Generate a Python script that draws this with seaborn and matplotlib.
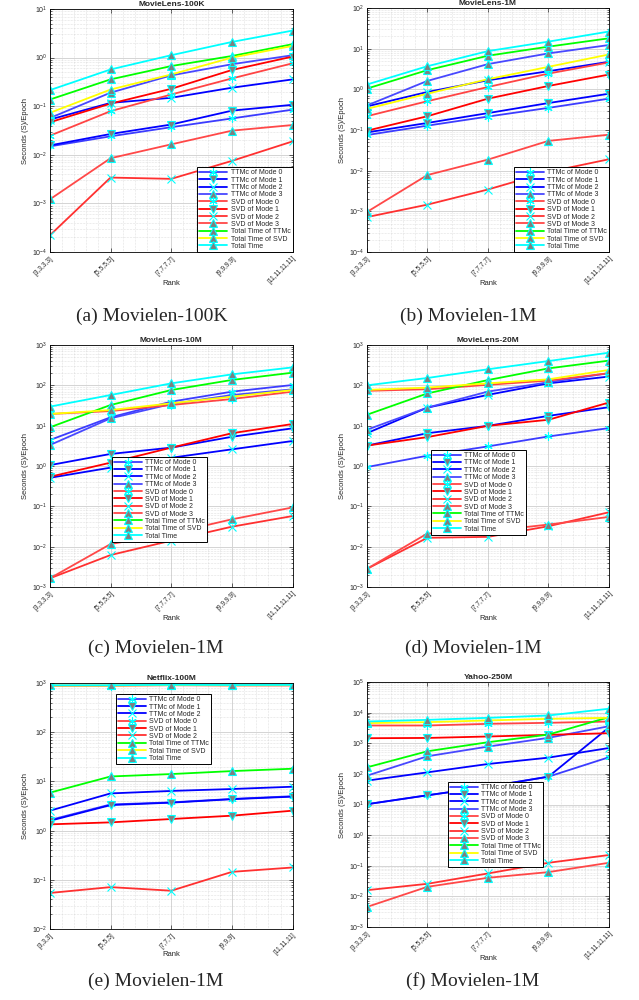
import numpy as np
import pandas as pd
import matplotlib.pyplot as plt
import matplotlib.ticker as mticker
import seaborn as sns

sns.set_style("ticks")
plt.rcParams['font.family'] = ['Liberation Sans', 'DejaVu Sans']
plt.rcParams['mathtext.fontset'] = 'dejavusans'

# ---- data (seconds per epoch) ----
ranks4 = ["[3,3,3,3]", "[5,5,5,5]", "[7,7,7,7]", "[9,9,9,9]", "[11,11,11,11]"]
ranks3 = ["[3,3,3]", "[5,5,5]", "[7,7,7]", "[9,9,9]", "[11,11,11]"]

ml100k = {
    "TTMc of Mode 0": [0.0149, 0.024, 0.037, 0.056, 0.085],
    "TTMc of Mode 1": [0.0156, 0.0268, 0.042, 0.081, 0.107],
    "TTMc of Mode 2": [0.053, 0.117, 0.149, 0.24, 0.356],
    "TTMc of Mode 3": [0.057, 0.19, 0.43, 0.73, 1.12],
    "SVD of Mode 0": [0.0247, 0.079, 0.174, 0.373, 0.764],
    "SVD of Mode 1": [0.0467, 0.113, 0.228, 0.556, 1.05],
    "SVD of Mode 2": [0.00022, 0.0034, 0.0032, 0.0075, 0.0189],
    "SVD of Mode 3": [0.00121, 0.0085, 0.0164, 0.0314, 0.041],
    "Total Time of TTMc": [0.137, 0.356, 0.67, 1.08, 1.89],
    "Total Time of SVD": [0.073, 0.22, 0.45, 1.0, 1.74],
    "Total Time": [0.214, 0.57, 1.12, 2.1, 3.6],
}

ml1m = {
    "TTMc of Mode 0": [0.075, 0.128, 0.214, 0.35, 0.59],
    "TTMc of Mode 1": [0.087, 0.149, 0.26, 0.46, 0.78],
    "TTMc of Mode 2": [0.38, 0.86, 1.67, 2.79, 4.76],
    "TTMc of Mode 3": [0.40, 1.61, 4.17, 7.65, 12.3],
    "SVD of Mode 0": [0.218, 0.51, 1.14, 2.44, 4.58],
    "SVD of Mode 1": [0.096, 0.218, 0.59, 1.21, 2.31],
    "SVD of Mode 2": [0.00072, 0.00146, 0.00344, 0.0093, 0.0191],
    "SVD of Mode 3": [0.00096, 0.0078, 0.0187, 0.054, 0.0766],
    "Total Time of TTMc": [1.04, 2.96, 6.7, 11.2, 18.0],
    "Total Time of SVD": [0.33, 0.78, 1.77, 3.58, 7.2],
    "Total Time": [1.31, 3.7, 8.7, 14.9, 26.4],
}

ml10m = {
    "TTMc of Mode 0": [4.4, 16.1, 39.4, 69.7, 102],
    "TTMc of Mode 1": [1.05, 1.99, 2.85, 5.3, 8.6],
    "TTMc of Mode 2": [0.51, 0.91, 1.6, 2.59, 4.17],
    "TTMc of Mode 3": [3.3, 15.2, 34.4, 57.5, 79.6],
    "SVD of Mode 0": [19.5, 23.0, 32.5, 45.8, 69.7],
    "SVD of Mode 1": [0.54, 1.21, 2.85, 6.5, 11.0],
    "SVD of Mode 2": [0.00164, 0.0062, 0.0141, 0.0313, 0.0575],
    "SVD of Mode 3": [0.00164, 0.0116, 0.0214, 0.0477, 0.094],
    "Total Time of TTMc": [9.1, 32.5, 76.5, 136, 206],
    "Total Time of SVD": [19.5, 24.4, 35.8, 52.4, 76.5],
    "Total Time": [29.6, 57.5, 112, 187, 279],
}

ml20m = {
    "TTMc of Mode 0": [0.94, 1.8, 3.06, 5.4, 8.7],
    "TTMc of Mode 1": [3.2, 6.5, 9.9, 17.5, 28.7],
    "TTMc of Mode 2": [6.5, 28.0, 58.0, 112, 165],
    "TTMc of Mode 3": [7.9, 28.0, 70.0, 119, 200],
    "SVD of Mode 0": [73.0, 80.0, 103, 131, 200],
    "SVD of Mode 1": [3.2, 5.2, 9.9, 14.0, 37.5],
    "SVD of Mode 2": [0.0028, 0.0166, 0.0175, 0.0321, 0.0713],
    "SVD of Mode 3": [0.0028, 0.0212, 0.0242, 0.0353, 0.0547],
    "Total Time of TTMc": [18.6, 63.0, 135, 263, 410],
    "Total Time of SVD": [77.0, 88.0, 112, 141, 241],
    "Total Time": [100, 152, 250, 400, 645],
}

netflix = {
    "TTMc of Mode 0": [1.64, 3.4, 3.75, 4.4, 5.0],
    "TTMc of Mode 1": [1.58, 3.3, 3.7, 4.35, 4.9],
    "TTMc of Mode 2": [2.54, 5.7, 6.4, 7.0, 7.8],
    "SVD of Mode 0": [880, 880, 900, 890, 890],
    "SVD of Mode 1": [1.34, 1.47, 1.72, 2.01, 2.54],
    "SVD of Mode 2": [0.054, 0.071, 0.06, 0.145, 0.178],
    "Total Time of TTMc": [5.9, 12.6, 14.1, 16.2, 18.1],
    "Total Time of SVD": [890, 890, 910, 900, 905],
    "Total Time": [900, 900, 920, 910, 915],
}

yahoo = {
    "TTMc of Mode 0": [10.2, 20.0, 38.0, 81.0, 350],
    "TTMc of Mode 1": [10.2, 20.0, 38.0, 81.0, 3300],
    "TTMc of Mode 2": [60.0, 112, 210, 339, 700],
    "TTMc of Mode 3": [87.0, 375, 778, 1500, 3600],
    "SVD of Mode 0": [3800, 3800, 4300, 4650, 5130],
    "SVD of Mode 1": [1460, 1490, 1660, 1880, 2130],
    "SVD of Mode 2": [0.0159, 0.0257, 0.056, 0.125, 0.224],
    "SVD of Mode 3": [0.0045, 0.0205, 0.0404, 0.062, 0.125],
    "Total Time of TTMc": [163, 547, 1080, 1920, 7100],
    "Total Time of SVD": [4530, 4890, 5540, 6280, 6760],
    "Total Time": [5130, 5800, 6760, 8070, 13400],
}

# ---- styles ----
ast = (6, 2, 0)
styles = {
    "TTMc of Mode 0": ("#3c3cff", ast),
    "TTMc of Mode 1": ("#0000ff", "v"),
    "TTMc of Mode 2": ("#0000ff", "x"),
    "TTMc of Mode 3": ("#4848ff", "^"),
    "SVD of Mode 0": ("#ff4444", ast),
    "SVD of Mode 1": ("#ff0000", "v"),
    "SVD of Mode 2": ("#ff3030", "x"),
    "SVD of Mode 3": ("#ff4848", "^"),
    "Total Time of TTMc": ("#00ff00", "^"),
    "Total Time of SVD": ("#ffff00", "^"),
    "Total Time": ("#00ffff", "^"),
}

panels = [
    ("MovieLens-100K", ml100k, ranks4, (1e-4, 1e1), [0.078, 0.748, 0.380, 0.243], "lower right", None),
    ("MovieLens-1M", ml1m, ranks4, (1e-4, 1e2), [0.574, 0.748, 0.379, 0.244], "lower right", None),
    ("MovieLens-10M", ml10m, ranks4, (1e-3, 1e3), [0.078, 0.413, 0.380, 0.242], "upper left", (0.255, 0.537)),
    ("MovieLens-20M", ml20m, ranks4, (1e-3, 1e3), [0.574, 0.413, 0.379, 0.242], "upper left", (0.264, 0.566)),
    ("Netflix-100M", netflix, ranks3, (1e-2, 1e3), [0.078, 0.071, 0.380, 0.246], "upper left", (0.272, 0.955)),
    ("Yahoo-250M", yahoo, ranks4, (1e-3, 1e5), [0.574, 0.073, 0.379, 0.245], "upper left", (0.335, 0.592)),
]

captions = [
    ("(a) Movielen-100K", 0.238, 0.684), ("(b) Movielen-1M", 0.733, 0.684),
    ("(c) Movielen-1M", 0.244, 0.352), ("(d) Movielen-1M", 0.740, 0.352),
    ("(e) Movielen-1M", 0.244, 0.019), ("(f) Movielen-1M", 0.740, 0.019),
]

fig = plt.figure(figsize=(6.39, 10), dpi=100)

for title, series, ranks, ylim, rect, loc, anchor in panels:
    ax = fig.add_axes(rect)
    ax.set_yscale('log')
    for name, vals in series.items():
        color, marker = styles[name]
        df = pd.DataFrame({"Rank": ranks, "sec": vals})
        sns.lineplot(data=df, x="Rank", y="sec", ax=ax, sort=False, errorbar=None,
                     color=color, lw=1.3, marker=marker, markersize=6,
                     markerfacecolor="#7f7f7f", markeredgecolor="#00ffff",
                     markeredgewidth=0.8, label=name)
    ax.set_xlim(0, len(ranks) - 1)
    ax.set_ylim(*ylim)
    ax.yaxis.set_major_locator(mticker.LogLocator(base=10, numticks=20))
    ax.yaxis.set_minor_locator(mticker.LogLocator(base=10, subs=np.arange(2, 10), numticks=20))
    ax.yaxis.set_minor_formatter(mticker.NullFormatter())
    ax.xaxis.set_minor_locator(mticker.MultipleLocator(0.2))
    ax.grid(which='major', color='#d4d4d4', lw=0.7)
    ax.grid(which='minor', color='#c8c8c8', lw=0.4, ls=':')
    ax.set_axisbelow(True)
    ax.tick_params(which='both', direction='in', top=True, right=True, width=0.5)
    ax.tick_params(which='major', length=3, labelsize=5, pad=2)
    ax.tick_params(which='minor', length=1.5)
    ax.tick_params(axis='x', which='minor', length=0)
    ax.set_xticks(range(len(ranks)))
    ax.set_xticklabels(ranks, rotation=45, ha='right', rotation_mode='anchor', fontsize=4.8)
    for s in ax.spines.values():
        s.set_linewidth(0.6)
        s.set_color('black')
    ax.set_title(title, fontsize=6, fontweight='bold', pad=2)
    ax.set_ylabel("Seconds (S)/Epoch", fontsize=5.5, labelpad=2)
    ax.set_xlabel("Rank", fontsize=5.5, labelpad=-4)
    kw = dict(loc=loc, fontsize=5, handlelength=4, labelspacing=0.05, borderpad=0.3,
              handletextpad=0.5, fancybox=False, framealpha=1, edgecolor='black',
              borderaxespad=0)
    if anchor is not None:
        kw['bbox_to_anchor'] = anchor
    leg = ax.legend(**kw)
    leg.get_frame().set_linewidth(0.7)

for text, x, y in captions:
    fig.text(x, y, text, ha='center', va='center', fontsize=14, family='Liberation Serif')

fig.savefig("out.png", dpi=100)
